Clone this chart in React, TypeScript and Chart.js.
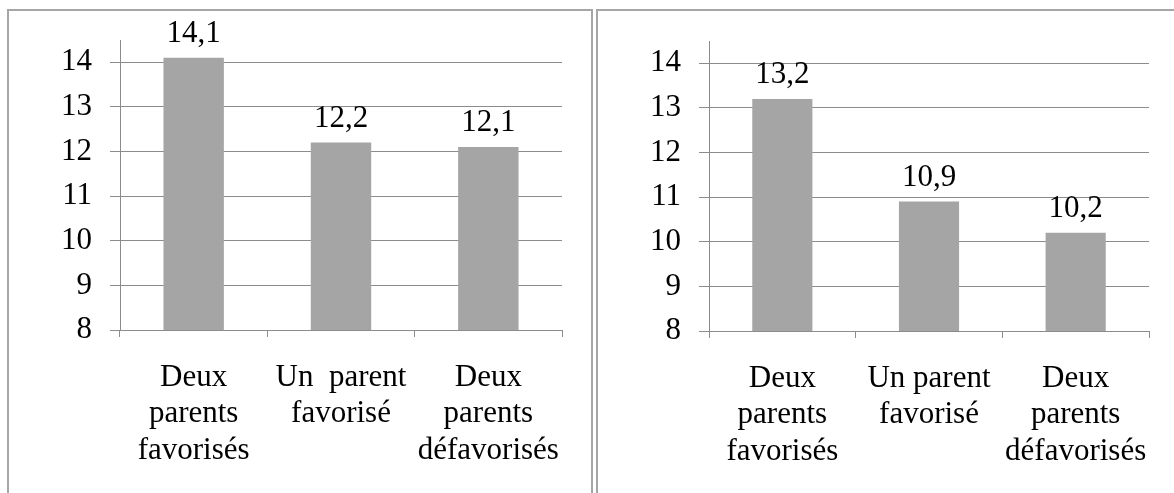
import React, { useEffect, useRef } from "react";
import { Chart, registerables } from "chart.js";

Chart.register(...registerables);

const leftCategories = [["Deux", "parents", "favorisés"], ["Un  parent", "favorisé"], ["Deux", "parents", "défavorisés"]];
const rightCategories = [["Deux", "parents", "favorisés"], ["Un parent", "favorisé"], ["Deux", "parents", "défavorisés"]];
const leftValues = [14.1, 12.2, 12.1];
const rightValues = [13.2, 10.9, 10.2];
const yTickValues = [8, 9, 10, 11, 12, 13, 14];

const FONT = '"Liberation Serif", "Times New Roman", serif';
const GRID = "#8c8c8c";
const BAR = "#a5a5a5";
const FS = 31;

const valueLabels = {
  id: "valueLabels",
  afterDatasetsDraw(chart: any) {
    const ctx = chart.ctx;
    ctx.save();
    ctx.font = `${FS}px ${FONT}`;
    ctx.fillStyle = "#000";
    ctx.textAlign = "center";
    ctx.textBaseline = "alphabetic";
    chart.data.datasets.forEach((ds: any, i: number) => {
      const meta = chart.getDatasetMeta(i);
      meta.data.forEach((bar: any, j: number) => {
        const txt = String(ds.data[j]).replace(".", ",");
        ctx.fillText(txt, bar.x, bar.y - 16);
      });
    });
    ctx.restore();
  },
};

function BarPanel({ labels, values, area }: { labels: any; values: number[]; area: { left: number; right: number; top: number; bottom: number } }) {
  const ref = useRef<HTMLCanvasElement>(null);
  useEffect(() => {
    const W = 1174, H = 493;
    const yW = 60, xH = H - area.bottom;
    const chart = new Chart(ref.current!, {
      type: "bar",
      data: {
        labels,
        datasets: [{ data: values, backgroundColor: BAR, borderWidth: 0, categoryPercentage: 1, barPercentage: 0.41 }],
      },
      plugins: [valueLabels],
      options: {
        responsive: false,
        animation: false,
        events: [],
        layout: { padding: { left: area.left - yW, right: W - area.right, top: area.top, bottom: 0 } },
        plugins: { legend: { display: false }, tooltip: { enabled: false } },
        scales: {
          x: {
            afterFit: (s: any) => { s.height = xH; },
            grid: { drawOnChartArea: false, drawTicks: true, tickLength: 7, color: GRID, offset: true },
            border: { color: GRID, width: 1 },
            ticks: { font: { family: FONT, size: FS, lineHeight: 1.19 }, color: "#000", padding: 22, maxRotation: 0, autoSkip: false },
          },
          y: {
            min: 8,
            max: 14.5,
            afterFit: (s: any) => { s.width = yW; },
            afterBuildTicks: (s: any) => { s.ticks = yTickValues.map((v) => ({ value: v })); },
            grid: { color: GRID, tickLength: 10, drawTicks: true },
            border: { color: GRID, width: 1 },
            ticks: { font: { family: FONT, size: FS }, color: "#000", padding: 18 },
          },
        },
      },
    });
    return () => chart.destroy();
  }, []);
  return <canvas ref={ref} width={1174} height={493} style={{ position: "absolute", left: 0, top: 0, width: 1174, height: 493 }} />;
}

export default function App() {
  return (
    <div style={{ position: "absolute", left: 0, top: 0, width: 1174, height: 493, overflow: "hidden", background: "#fff" }}>
      <div style={{ position: "absolute", left: 7, top: 9, width: 586, height: 520, border: "2px solid #a6a6a6", boxSizing: "border-box" }} />
      <div style={{ position: "absolute", left: 596, top: 9, width: 600, height: 520, border: "2px solid #a6a6a6", boxSizing: "border-box" }} />
      <BarPanel labels={leftCategories} values={leftValues} area={{ left: 120, right: 562, top: 40, bottom: 330 }} />
      <BarPanel labels={rightCategories} values={rightValues} area={{ left: 709, right: 1149, top: 41, bottom: 331 }} />
    </div>
  );
}
